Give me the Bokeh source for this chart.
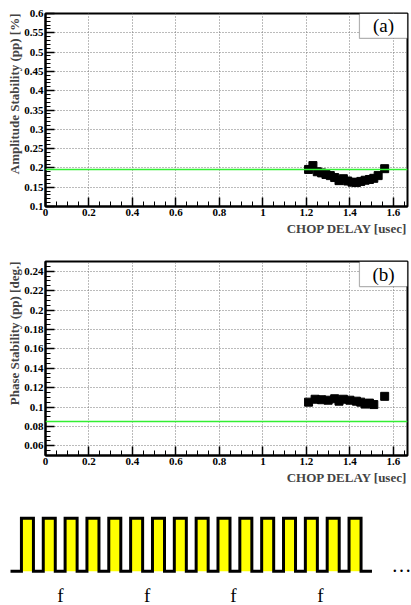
from bokeh.plotting import figure
from bokeh.models import (Range1d, FixedTicker, Span, Title, BoxAnnotation, Label)
from bokeh.layouts import column
from bokeh.embed import file_html
from bokeh.resources import INLINE
from bokeh.core.properties import value

# ---------------- data ----------------
chop_delay = [1.21, 1.23, 1.25, 1.27, 1.29, 1.31, 1.33, 1.35, 1.37,
              1.39, 1.41, 1.43, 1.45, 1.47, 1.49, 1.51, 1.53, 1.56]
amp_stab = [0.196, 0.206, 0.190, 0.187, 0.183, 0.180, 0.175, 0.167, 0.172,
            0.166, 0.163, 0.162, 0.165, 0.168, 0.170, 0.173, 0.180, 0.198]
phase_delay = [1.21, 1.24, 1.27, 1.30, 1.33, 1.35, 1.37, 1.40, 1.43,
               1.45, 1.47, 1.49, 1.51, 1.56]
phase_stab = [0.105, 0.108, 0.1075, 0.107, 0.1085, 0.106, 0.108, 0.107, 0.106,
              0.105, 0.103, 0.104, 0.1025, 0.111]
amp_ref = 0.196
phase_ref = 0.085

x_ticks = [0, 0.2, 0.4, 0.6, 0.8, 1.0, 1.2, 1.4, 1.6]
x_tick_labels = ["0", "0.2", "0.4", "0.6", "0.8", "1", "1.2", "1.4", "1.6"]
ya_ticks = [0.1, 0.15, 0.2, 0.25, 0.3, 0.35, 0.4, 0.45, 0.5, 0.55, 0.6]
ya_tick_labels = ["0.1", "0.15", "0.2", "0.25", "0.3", "0.35", "0.4", "0.45", "0.5", "0.55", "0.6"]
yb_ticks = [0.06, 0.08, 0.1, 0.12, 0.14, 0.16, 0.18, 0.2, 0.22, 0.24]
yb_tick_labels = ["0.06", "0.08", "0.1", "0.12", "0.14", "0.16", "0.18", "0.2", "0.22", "0.24"]

# pulse train diagram (in units of one pulse period)
pulse_rise = [0.5, 1.5, 2.5, 3.5, 4.5, 5.5, 6.5, 7.5, 8.5, 9.5, 10.5, 11.5, 12.5, 13.5, 14.5, 15.5]
pulse_width = 0.55
train_start = 0.0
train_end = 16.55
f_pos = [2.29, 6.26, 10.21, 14.19]
f_labels = ["f", "f", "f", "f"]

SERIF = "Liberation Serif"
GREEN = "#33ee33"


def minor(lo, hi, step):
    n = int(round((hi - lo) / step))
    return [round(lo + i * step, 6) for i in range(n + 1)]


def style_axes(p, yt, ytl, yminor_step):
    p.xaxis.ticker = FixedTicker(ticks=x_ticks, minor_ticks=minor(0, 1.65, 0.05))
    p.xaxis.major_label_overrides = {t: l for t, l in zip(x_ticks, x_tick_labels)}
    p.yaxis.ticker = FixedTicker(ticks=yt, minor_ticks=minor(p.y_range.start, p.y_range.end, yminor_step))
    p.yaxis.major_label_overrides = {t: l for t, l in zip(yt, ytl)}
    for ax in (p.xaxis[0], p.yaxis[0]):
        ax.major_tick_in = 9
        ax.major_tick_out = 0
        ax.minor_tick_in = 5
        ax.minor_tick_out = 0
        ax.major_tick_line_color = "black"
        ax.minor_tick_line_color = "black"
        ax.major_tick_line_width = 1.5
        ax.axis_line_color = "black"
        ax.axis_line_width = 2
        ax.major_label_text_font = SERIF
        ax.major_label_text_font_style = "bold"
        ax.major_label_text_font_size = "11px"
        ax.major_label_text_color = "black"
        ax.major_label_standoff = 2
    p.grid.grid_line_color = "#777777"
    p.grid.grid_line_dash = "1 2"
    p.grid.grid_line_width = 1
    p.outline_line_color = "black"
    p.outline_line_width = 2
    p.background_fill_color = "white"
    p.border_fill_color = "white"


def make_panel(height, top_b, bot_b, yrange, xs, ys, ref, yt, ytl, yminor_step, ytitle, tag):
    p = figure(width=411, height=height, output_backend="svg", toolbar_location=None,
               x_range=Range1d(0, 1.665), y_range=Range1d(*yrange),
               min_border_left=45, min_border_right=4, min_border_top=top_b,
               min_border_bottom=bot_b)
    style_axes(p, yt, ytl, yminor_step)
    p.add_layout(Span(location=ref, dimension="width", line_color=GREEN, line_width=1.5))
    p.scatter(xs, ys, marker="square", size=8, color="black")
    p.add_layout(Title(text="CHOP DELAY [usec]", align="right", text_font=SERIF,
                       text_font_style="bold", text_font_size="13px", standoff=0, offset=0), "below")
    p.add_layout(Title(text=ytitle, align="right", text_font=SERIF,
                       text_font_style="bold", text_font_size="13px", standoff=0, offset=0), "left")
    ylo, yhi = yrange
    box_h = (yhi - ylo) * 25 / 193.5
    p.add_layout(BoxAnnotation(left=1.444, right=1.665, top=yhi, bottom=yhi - box_h,
                               fill_color="white", fill_alpha=1, line_color="black", line_width=1.2))
    p.add_layout(Label(x=1.5545, y=yhi - box_h / 2, text=tag, text_font=SERIF,
                       text_font_size="19px", text_align="center", text_baseline="middle",
                       text_color="black"))
    return p


p1 = make_panel(240, 13, 34, (0.1, 0.6), chop_delay, amp_stab, amp_ref,
                ya_ticks, ya_tick_labels, 0.01, "Amplitude Stability (pp) [%]", "(a)")
p2 = make_panel(245, 21, 30, (0.05, 0.25), phase_delay, phase_stab, phase_ref,
                yb_ticks, yb_tick_labels, 0.005, "Phase Stability (pp) [deg.]", "(b)")

# ---------------- pulse diagram ----------------
p3 = figure(width=411, height=120, output_backend="svg", toolbar_location=None,
            x_range=Range1d(-0.458, 18.36), y_range=Range1d(-0.647, 1.617),
            x_axis_location=None, y_axis_location=None,
            min_border=0, min_border_left=0, min_border_right=0,
            min_border_top=0, min_border_bottom=0)
p3.grid.visible = False
p3.outline_line_color = None
fall = [r + pulse_width for r in pulse_rise]
p3.quad(left=pulse_rise, right=fall, bottom=[0] * len(pulse_rise), top=[1] * len(pulse_rise),
        fill_color="#ffff00", line_color=None)
wx = [train_start]
wy = [0]
for r, f in zip(pulse_rise, fall):
    wx += [r, r, f, f]
    wy += [0, 1, 1, 0]
wx.append(train_end)
wy.append(0)
p3.line(wx, wy, line_color="black", line_width=3, line_join="miter")
p3.text(f_pos, [-0.45] * len(f_pos), text=f_labels, text_font=value(SERIF),
        text_font_size="19px", text_align="center", text_baseline="alphabetic", text_color="black")
p3.text([17.9], [0.11], text=["…"], text_font=value(SERIF), text_font_size="20px",
        text_align="center", text_baseline="alphabetic", text_color="black")

layout = column(column(p1, p2, spacing=0), column(p3, spacing=0), spacing=0)
open("out.html", "w").write(file_html(layout, INLINE))
